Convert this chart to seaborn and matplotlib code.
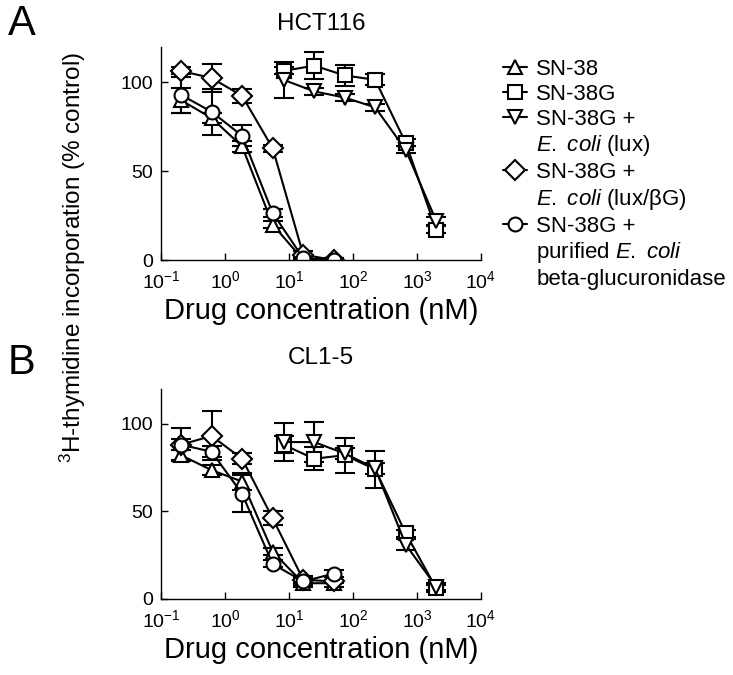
import numpy as np
import matplotlib
matplotlib.use("Agg")
import matplotlib.pyplot as plt
import seaborn as sns
from matplotlib.lines import Line2D
from matplotlib.ticker import NullLocator

# drug concentrations (nM), threefold dilutions
conc_sn38 = [0.206, 0.617, 1.85, 5.56, 16.7, 50]
conc_sn38g = [8.23, 24.7, 74.1, 222, 667, 2000]

# HCT116 (% control)
hct_sn38 = [90, 80, 64, 20, 0, 0]
hct_sn38_err = [7, 3, 3, 2, 1, 1]
hct_sn38g = [106.5, 109.5, 104, 101.5, 66, 17]
hct_sn38g_err = [2, 7.5, 6, 3, 2, 2]
hct_lux = [101.5, 95, 91.5, 86, 62, 22]
hct_lux_err = [10, 2, 2, 2, 2, 2]
hct_luxbg = [106.5, 102.5, 92.5, 63, 3, 0]
hct_luxbg_err = [2, 8, 4, 2, 2, 1]
hct_purified = [93, 83.5, 70, 26.5, 1, 0]
hct_purified_err = [10, 13, 6, 2, 1, 1]

# CL1-5 (% control)
cl_sn38 = [82, 73.5, 67, 27, 9, 9]
cl_sn38_err = [3, 3, 5, 2, 2, 2]
cl_sn38g = [88, 80, 82, 74, 37.5, 6]
cl_sn38g_err = [5, 6.5, 10, 10.5, 2, 2]
cl_lux = [89.5, 89.5, 83, 74.5, 31, 7]
cl_lux_err = [11, 11.5, 3, 3, 3, 2]
cl_luxbg = [88, 93, 80, 46, 11, 10]
cl_luxbg_err = [3, 14, 3, 4, 2, 1]
cl_purified = [88, 84, 60, 20, 10, 14.5]
cl_purified_err = [9.5, 3, 10.5, 2, 2, 2]

titles = ["HCT116", "CL1-5"]
panel_letters = ["A", "B"]

sns.set_style("ticks")
plt.rcParams["font.family"] = ["Liberation Sans", "DejaVu Sans"]
plt.rcParams["mathtext.fontset"] = "custom"
plt.rcParams["mathtext.rm"] = "Liberation Sans"
plt.rcParams["mathtext.it"] = "Liberation Sans:italic"
plt.rcParams["mathtext.default"] = "regular"
plt.rcParams["text.color"] = "black"
plt.rcParams["axes.labelcolor"] = "black"

fig = plt.figure(figsize=(7.33, 6.75), dpi=100)
ax_a = fig.add_axes([0.2196, 0.6148, 0.4366, 0.3156])
ax_b = fig.add_axes([0.2196, 0.1126, 0.4366, 0.3117])

marker_kw = dict(markersize=10, markerfacecolor="white", markeredgecolor="black",
                 markeredgewidth=1.5, linewidth=1.5, color="black")


def draw_panel(ax, data, title, title_pad):
    for x, y, err, m in data:
        ax.errorbar(x, y, yerr=err, fmt="none", ecolor="black", elinewidth=1.5,
                    capsize=7, capthick=1.5, zorder=1)
        sns.lineplot(x=x, y=y, ax=ax, marker=m, zorder=2, **marker_kw)
    ax.set_xscale("log")
    ax.set_xlim(0.1, 1e4)
    ax.set_ylim(0, 120)
    ax.set_yticks([0, 50, 100])
    ax.xaxis.set_minor_locator(NullLocator())
    ax.tick_params(direction="in", length=5, width=1, labelsize=14, colors="black", pad=6)
    ax.tick_params(axis="x", pad=7)
    for s in ["left", "bottom"]:
        ax.spines[s].set_linewidth(1.0)
        ax.spines[s].set_color("black")
    sns.despine(ax=ax)
    ax.set_xlabel("Drug concentration (nM)", fontsize=21, labelpad=4)
    ax.set_ylabel("")
    ax.set_title(title, fontsize=17.5, pad=title_pad)


draw_panel(ax_a, [
    (conc_sn38, hct_sn38, hct_sn38_err, "^"),
    (conc_sn38g, hct_sn38g, hct_sn38g_err, "s"),
    (conc_sn38g, hct_lux, hct_lux_err, "v"),
    (conc_sn38, hct_luxbg, hct_luxbg_err, "D"),
    (conc_sn38, hct_purified, hct_purified_err, "o"),
], titles[0], 12)

draw_panel(ax_b, [
    (conc_sn38, cl_sn38, cl_sn38_err, "^"),
    (conc_sn38g, cl_sn38g, cl_sn38g_err, "s"),
    (conc_sn38g, cl_lux, cl_lux_err, "v"),
    (conc_sn38, cl_luxbg, cl_luxbg_err, "D"),
    (conc_sn38, cl_purified, cl_purified_err, "o"),
], titles[1], 18)

fig.text(73 / 733, 1 - 257 / 675, "$^{3}$H-thymidine incorporation (% control)",
         rotation=90, ha="center", va="center", fontsize=17.5)
fig.text(8 / 733, 1 - 4 / 675, panel_letters[0], fontsize=30, ha="left", va="top")
fig.text(8 / 733, 1 - 343 / 675, panel_letters[1], fontsize=30, ha="left", va="top")

# legend
def h(m):
    return Line2D([], [], marker=m, **marker_kw)

blank = Line2D([], [], linestyle="none")
handles = [h("^"), h("s"), h("v"), blank, h("D"), blank, h("o"), blank, blank]
labels = ["SN-38", "SN-38G", "SN-38G +", r"$\it{E.}$ $\it{coli}$ (lux)",
          "SN-38G +", r"$\it{E.}$ $\it{coli}$ (lux/βG)",
          "SN-38G +", r"purified $\it{E.}$ $\it{coli}$", "beta-glucuronidase"]
fig.legend(handles, labels, loc="upper left", bbox_to_anchor=(503 / 733, 1 - 59 / 675),
           frameon=False, fontsize=16, handlelength=1.1, handletextpad=0.4,
           labelspacing=0.17, borderaxespad=0, borderpad=0)

fig.savefig("out.png", dpi=100)
